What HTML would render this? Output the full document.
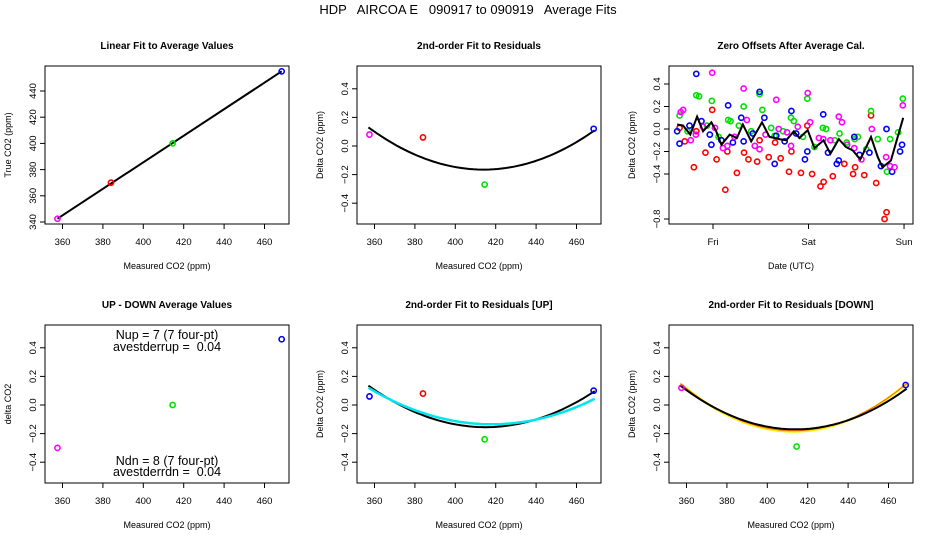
<!DOCTYPE html>
<html><head><meta charset="utf-8"><style>
body{margin:0;background:#fff}
svg{display:block;font-family:"Liberation Sans",sans-serif}
</style></head><body>
<svg id="s" width="936" height="540" xmlns="http://www.w3.org/2000/svg">
<text x="468" y="14" text-anchor="middle" font-size="13" style="white-space:pre" xml:space="preserve">HDP   AIRCOA E   090917 to 090919   Average Fits</text>
</svg>
<script>
// ---- data ----
const calX = [357.5, 384, 414.5, 468.5];
const calColors = ['#ff00ff','#ff0000','#00e000','#0000ff'];
const trueCO2 = [342.5, 370, 400, 455];
const resid = [0.08, 0.06, -0.27, 0.12];
const residUp = [0.06, 0.08, -0.24, 0.10];
const residDn = [0.12, null, -0.29, 0.14];
const upDownX = [357.5, 414.5, 468.5];
const upDownY = [-0.30, 0.00, 0.46];
const upDownColors = ['#ff00ff','#00e000','#0000ff'];
// quadratic fits: [h, k, at x=357]
const fitMain = [414, -0.165, 0.13];
const fitUpBlack = [415, -0.155, 0.135];
const fitUpCyan = [418, -0.135, 0.12];
const fitDnBlack = [414, -0.17, 0.135];
const fitDnOrange = [413, -0.18, 0.15];
const fitDnYellow = [413, -0.185, 0.15];
// zero offsets (hours after Fri 00:00, ppm)
const blueH=[-9.0,-8.4,-5.9,-4.2,-2.9,-0.8,-0.4,2.1,3.8,5.0,7.1,7.7,10.0,11.7,12.9,15.5,15.9,18.0,19.7,20.9,23.1,23.7,27.7,28.9,31.1,31.6,35.5,36.8,39.3,42.2,43.6,45.0,47.0,47.5];
const blueV=[-0.02,-0.13,0.03,0.49,0.07,-0.05,-0.14,-0.10,0.21,-0.12,0.10,-0.11,-0.04,0.33,0.10,-0.31,-0.06,-0.11,0.16,-0.04,-0.27,-0.20,0.13,-0.21,-0.31,-0.28,-0.07,-0.23,-0.21,-0.33,0.00,-0.38,-0.20,-0.14];
const redH=[-8.4,-7.1,-4.8,-4.2,-1.9,-0.2,0.9,3.1,3.6,6.0,7.8,8.9,11.1,11.7,14.0,15.6,17.0,19.1,19.7,22.1,23.7,24.9,27.0,27.8,30.1,33.0,35.2,35.7,38.0,39.7,41.0,43.1,43.6];
const redV=[0.01,-0.11,-0.34,-0.02,-0.21,0.17,-0.27,-0.54,-0.20,-0.39,-0.21,-0.27,-0.29,-0.10,-0.25,-0.12,-0.26,-0.38,-0.20,-0.39,0.03,-0.40,-0.51,-0.47,-0.42,-0.31,-0.40,-0.34,-0.41,0.12,-0.48,-0.80,-0.74];
const greenH=[-8.4,-6.4,-4.2,-3.5,-1.5,-0.3,1.4,3.8,4.4,6.5,7.7,9.6,11.7,12.4,14.6,15.5,17.6,19.6,20.3,22.6,23.7,25.5,27.6,28.4,30.6,31.8,33.6,35.6,36.4,38.5,39.7,41.4,43.7,44.5,46.5,47.7];
const greenV=[0.12,-0.02,0.30,0.29,0.03,0.25,-0.07,0.08,0.07,0.03,0.20,-0.02,0.31,0.17,0.01,-0.06,-0.02,0.10,0.07,-0.07,0.27,-0.16,0.01,0.00,-0.10,-0.04,-0.12,-0.09,-0.07,-0.18,0.16,-0.09,-0.38,-0.09,-0.03,0.27];
const magH=[-8.1,-7.5,-5.6,-4.3,-2.5,-0.2,0.5,2.5,3.6,5.4,7.7,8.5,10.5,11.7,13.2,15.9,16.5,18.6,19.6,21.3,23.8,24.4,26.6,27.7,29.5,31.6,32.4,33.7,35.5,37.3,39.9,43.5,44.5,45.6,47.7];
const magV=[0.15,0.17,-0.10,-0.05,0.02,0.50,0.01,-0.17,-0.15,-0.07,0.36,0.08,-0.15,-0.18,-0.05,0.26,0.00,-0.03,-0.15,0.02,0.32,0.06,-0.08,-0.09,-0.10,0.11,0.06,-0.14,-0.17,-0.27,0.00,-0.25,-0.33,-0.34,0.21];
const avgH=[-9.0,-7.5,-5.7,-4.0,-2.5,-0.4,0.8,2.1,4.2,6.0,7.5,9.6,12.3,14.2,16.7,18.4,20.3,21.7,23.8,25.5,27.8,29.5,31.6,33.4,35.1,37.0,39.7,41.4,42.6,44.7,47.8];
const avgV=[0.04,0.03,-0.05,0.11,-0.02,0.06,-0.02,-0.14,-0.05,-0.08,0.04,-0.11,0.06,-0.07,-0.09,-0.10,-0.02,-0.08,-0.01,-0.17,-0.10,-0.22,-0.09,-0.16,-0.19,-0.27,-0.07,-0.25,-0.34,-0.28,0.10];
const co2Ticks=[360,380,400,420,440,460];
const trueTicks=[340,360,380,400,420,440];
const deltaTicks=[0.4,0.2,0.0,-0.2,-0.4];
const zeroTicks=[0.4,0.2,0.0,-0.2,-0.4,-0.8];
const dayTicks=['Fri','Sat','Sun'];

const S=document.getElementById('s'),NS='http://www.w3.org/2000/svg';
function el(t,a,p){const e=document.createElementNS(NS,t);for(const k in a)e.setAttribute(k,a[k]);(p||S).appendChild(e);return e;}
function fmt(v){return v.toFixed(1).replace('-','\u2212');}

function panel(name,L,T,title,xlab,ylab){
  const g=el('g',{});
  
  
  const r=el('rect',{x:L,y:T,width:244,height:158,fill:'none',stroke:'#000','stroke-width':1},g);
  
  const t=el('text',{x:L+122,y:T-17,'text-anchor':'middle','font-size':10,'font-weight':'bold'},g);t.textContent=title;
  
  const xl=el('text',{x:L+122,y:T+203,'text-anchor':'middle','font-size':9},g);xl.textContent=xlab;
  
  const yl=el('text',{transform:`translate(${L-34},${T+79}) rotate(-90)`,'text-anchor':'middle','font-size':9},g);yl.textContent=ylab;
  
  return g;
}
function xTicks(g,L,T,vals,fx,labels){
  vals.forEach((v,i)=>{const x=fx(v);
    el('line',{x1:x,x2:x,y1:T+158,y2:T+163,stroke:'#000'},g);
    const t=el('text',{x:x,y:T+179,'text-anchor':'middle','font-size':9.5},g);t.textContent=labels?labels[i]:v;
    });
}
function yTicks(g,L,vals,fy,f){
  vals.forEach(v=>{const y=fy(v);
    el('line',{x1:L,x2:L-5,y1:y,y2:y,stroke:'#000'},g);
    const t=el('text',{transform:`translate(${L-9},${y}) rotate(-90)`,'text-anchor':'middle','font-size':9.5},g);t.textContent=f?f(v):v;
    });
}
function pt(g,x,y,c,nm){const e=el('circle',{cx:x,cy:y,r:2.6,fill:'none',stroke:c,'stroke-width':1.6},g);
  return e;}
function quad(g,f,fx,fy,c,w){const a=(f[2]-f[1])/Math.pow(357-f[0],2);let d='';
  for(let x=357;x<=469;x+=2){const y=a*(x-f[0])**2+f[1];d+=(d?'L':'M')+fx(x).toFixed(1)+','+fy(y).toFixed(1);}
  const p=el('path',{d:d,fill:'none',stroke:c,'stroke-width':w||2},g);}

const cols=[45,357,669],rows=[66,325];
const fxc=L=>v=>L+17.5+(v-360)*2.02;
const fyd=T=>v=>T+80-v*143;

// Panel 1
{const L=cols[0],T=rows[0],g=panel('linear-fit-panel',L,T,'Linear Fit to Average Values','Measured CO2 (ppm)','True CO2 (ppm)');
 const fx=fxc(L),fy=v=>T+156-(v-340)*1.31;
 xTicks(g,L,T,co2Ticks,fx);yTicks(g,L,trueTicks,fy);
 const ln=el('line',{x1:fx(calX[0]),y1:fy(trueCO2[0]),x2:fx(calX[3]),y2:fy(trueCO2[3]),stroke:'#000','stroke-width':2},g);
 
 calX.forEach((x,i)=>pt(g,fx(x),fy(trueCO2[i]),calColors[i],'cal-point'));}
// Panel 2
{const L=cols[1],T=rows[0],g=panel('residual-fit-panel',L,T,'2nd-order Fit to Residuals','Measured CO2 (ppm)','Delta CO2 (ppm)');
 const fx=fxc(L),fy=fyd(T);xTicks(g,L,T,co2Ticks,fx);yTicks(g,L,deltaTicks,fy,fmt);
 quad(g,fitMain,fx,fy,'#000');calX.forEach((x,i)=>pt(g,fx(x),fy(resid[i]),calColors[i],'residual-point'));}
// Panel 3
{const L=cols[2],T=rows[0],g=panel('zero-offsets-panel',L,T,'Zero Offsets After Average Cal.','Date (UTC)','Delta CO2 (ppm)');
 const fx=h=>L+44+h*3.98,fy=v=>T+63-v*112.5;
 xTicks(g,L,T,[0,24,48],fx,dayTicks);yTicks(g,L,zeroTicks,fy,fmt);
 [[redH,redV,'#ff0000'],[greenH,greenV,'#00e000'],[blueH,blueV,'#0000ff'],[magH,magV,'#ff00ff']].forEach(s=>{
   s[0].forEach((h,i)=>pt(g,fx(h),fy(s[1][i]),s[2],'offset-point'));});
 let d='';avgH.forEach((h,i)=>{d+=(i?'L':'M')+fx(h).toFixed(1)+','+fy(avgV[i]).toFixed(1);});
 const p=el('path',{d:d,fill:'none',stroke:'#000','stroke-width':2},g);}
// Panel 4
{const L=cols[0],T=rows[1],g=panel('up-down-panel',L,T,'UP - DOWN Average Values','Measured CO2 (ppm)','delta CO2');
 const fx=fxc(L),fy=fyd(T);xTicks(g,L,T,co2Ticks,fx);yTicks(g,L,deltaTicks,fy,fmt);
 upDownX.forEach((x,i)=>pt(g,fx(x),fy(upDownY[i]),upDownColors[i],'up-down-point'));
 [['Nup = 7 (7 four-pt)',14],['avestderrup =  0.04',26],['Ndn = 8 (7 four-pt)',140],['avestderrdn =  0.04',151]].forEach(a=>{
   const t=el('text',{x:L+122,y:T+a[1],'text-anchor':'middle','font-size':12.5,style:'white-space:pre'},g);t.textContent=a[0];
   });}
// Panel 5
{const L=cols[1],T=rows[1],g=panel('residual-up-panel',L,T,'2nd-order Fit to Residuals [UP]','Measured CO2 (ppm)','Delta CO2 (ppm)');
 const fx=fxc(L),fy=fyd(T);xTicks(g,L,T,co2Ticks,fx);yTicks(g,L,deltaTicks,fy,fmt);
 quad(g,fitUpBlack,fx,fy,'#000');quad(g,fitUpCyan,fx,fy,'#00e5ee',2.5);
 calX.forEach((x,i)=>pt(g,fx(x),fy(residUp[i]),['#0000ff','#ff0000','#00e000','#0000ff'][i],'residual-point'));}
// Panel 6
{const L=cols[2],T=rows[1],g=panel('residual-down-panel',L,T,'2nd-order Fit to Residuals [DOWN]','Measured CO2 (ppm)','Delta CO2 (ppm)');
 const fx=fxc(L),fy=fyd(T);xTicks(g,L,T,co2Ticks,fx);yTicks(g,L,deltaTicks,fy,fmt);
 quad(g,fitDnYellow,fx,fy,'#ffee00',2.5);quad(g,fitDnOrange,fx,fy,'#ff6600',1);quad(g,fitDnBlack,fx,fy,'#000');
 calX.forEach((x,i)=>{if(residDn[i]!==null)pt(g,fx(x),fy(residDn[i]),['#ff00ff','#ff0000','#00e000','#0000ff'][i],'residual-point');});}
</script>
</body></html>
